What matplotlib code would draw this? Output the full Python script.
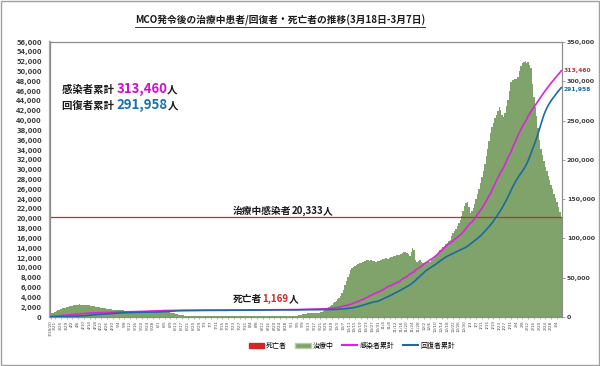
import matplotlib
matplotlib.use("Agg")
import matplotlib.pyplot as plt
import numpy as np
import pandas as pd
from matplotlib.patches import Patch, Rectangle
from matplotlib.lines import Line2D
from matplotlib.transforms import offset_copy

plt.rcParams['font.family'] = ['Noto Sans CJK JP', 'DejaVu Sans']

# daily, 2020-03-18 .. 2021-03-07
dates = pd.date_range('2020-03-18', '2021-03-07', freq='D')

# 治療中 (thousands, left axis)
active_k = (
    [0.7, 0.8, 0.9, 1.05, 1.15, 1.35, 1.4, 1.55, 1.75, 1.85, 1.9, 1.95, 2.1, 2.2]
    + [2.2, 2.3, 2.35, 2.4, 2.45, 2.5, 2.55, 2.5, 2.5, 2.45, 2.45, 2.45, 2.4, 2.35, 2.3,
       2.25, 2.2, 2.1, 2.05, 2.0, 1.95, 1.9, 1.85, 1.8, 1.75, 1.7, 1.65, 1.6, 1.55, 1.5]
    + [1.5, 1.45, 1.45, 1.4, 1.4, 1.35, 1.35, 1.3, 1.3, 1.25, 1.25, 1.2, 1.2, 1.15, 1.15,
       1.1, 1.1, 1.1, 1.05, 1.05, 1.05, 1.05, 1.0, 1.05, 1.1, 1.15, 1.1, 1.1, 1.05, 1.0, 1.0]
    + [1.0, 1.0, 0.95, 1.0, 1.0, 0.95, 0.95, 0.95, 0.9, 0.9, 0.85, 0.8, 0.7, 0.6, 0.5,
       0.45, 0.4, 0.35, 0.3, 0.3, 0.3, 0.25, 0.25, 0.25, 0.2, 0.2, 0.2, 0.2, 0.2, 0.15]
    + [0.15] * 22 + [0.2] * 9
    + [0.2] * 31
    + [0.2, 0.2, 0.25, 0.25, 0.3, 0.35, 0.4, 0.5, 0.55, 0.65, 0.7, 0.75, 0.75, 0.75, 0.75,
       0.75, 0.75, 0.8, 0.85, 0.9, 1.0, 1.1, 1.2, 1.35, 1.55, 1.75, 1.95, 2.2, 2.5, 2.8]
    + [3.0, 3.3, 3.6, 3.9, 4.2, 4.9, 5.6, 6.5, 7.3, 8.1, 8.8, 9.5, 10.0, 10.2, 10.4, 10.6,
       10.7, 10.9, 11.0, 11.2, 11.3, 11.5, 11.6, 11.7, 11.5, 11.6, 11.4, 11.5, 11.3, 11.2, 11.4]
    + [11.5, 11.7, 11.8, 11.9, 12.0, 12.0, 11.8, 12.1, 12.2, 12.3, 12.5, 12.4, 12.6, 12.7, 12.6,
       12.9, 13.0, 13.2, 13.3, 13.1, 12.8, 12.5, 13.2, 14.0, 13.6, 11.6, 11.3, 11.4, 11.6, 11.2]
    + [11.0, 11.0, 11.1, 11.2, 11.2, 11.3, 11.6, 11.9, 12.2, 12.6, 12.9, 13.3, 13.6, 13.9, 14.2,
       14.5, 14.8, 15.1, 15.4, 15.7, 16.4, 17.1, 17.6, 18.0, 18.5, 19.1, 19.7, 20.6, 21.6, 22.6, 23.3]
    + [23.5, 22.3, 21.1, 21.6, 22.2, 23.0, 24.0, 25.0, 26.1, 27.2, 28.5, 29.8, 31.2, 32.8, 34.2,
       35.9, 37.4, 38.6, 39.6, 40.5, 41.2, 42.0, 42.8, 42.2, 41.2, 40.8, 41.5, 43.0, 44.2, 46.0, 47.9]
    + [48.2, 48.3, 48.4, 48.5, 48.8, 50.0, 51.2, 51.8, 51.9, 52.1, 51.8, 51.9, 51.4, 50.8,
       47.5, 44.9, 42.8, 41.0, 38.5, 36.0, 34.2, 33.0, 31.8, 30.6, 29.7, 28.8, 27.8, 26.9]
    + [26.0, 25.0, 24.2, 23.4, 22.5, 21.4, 20.333]
)

# 感染者累計 (thousands, right axis)
infected_k = (
    [0.79, 0.90, 1.03, 1.18, 1.31, 1.52, 1.62, 1.80, 2.03, 2.16, 2.32, 2.47, 2.63, 2.77]
    + [2.91, 3.12, 3.33, 3.48, 3.66, 3.79, 3.96, 4.12, 4.23, 4.35, 4.53, 4.68, 4.82, 4.99, 5.07,
       5.18, 5.25, 5.31, 5.39, 5.43, 5.48, 5.53, 5.60, 5.69, 5.74, 5.78, 5.82, 5.85, 5.95, 6.00]
    + [6.07, 6.18, 6.30, 6.35, 6.38, 6.43, 6.47, 6.53, 6.59, 6.66, 6.72, 6.74, 6.78, 6.82, 6.86,
       6.89, 6.94, 6.98, 7.01, 7.06, 7.14, 7.19, 7.25, 7.42, 7.47, 7.60, 7.63, 7.68, 7.73, 7.76, 7.82]
    + [7.86, 7.88, 7.97, 8.25, 8.27, 8.30, 8.32, 8.34, 8.37, 8.39, 8.40, 8.40, 8.44, 8.45, 8.49,
       8.50, 8.51, 8.53, 8.54, 8.56, 8.57, 8.58, 8.59, 8.60, 8.60, 8.61, 8.61, 8.62, 8.63, 8.64]
    + [8.64, 8.65, 8.66, 8.67, 8.67, 8.68, 8.69, 8.70, 8.70, 8.72, 8.73, 8.73, 8.74, 8.75, 8.76,
       8.77, 8.78, 8.80, 8.81, 8.83, 8.84, 8.86, 8.87, 8.89, 8.90, 8.91, 8.93, 8.94, 8.96, 8.96, 8.98]
    + [8.99, 9.00, 9.00, 9.02, 9.02, 9.04, 9.05, 9.06, 9.07, 9.08, 9.08, 9.09, 9.10, 9.12, 9.15,
       9.17, 9.18, 9.20, 9.21, 9.22, 9.23, 9.24, 9.25, 9.26, 9.27, 9.29, 9.31, 9.32, 9.33, 9.34, 9.34]
    + [9.35, 9.36, 9.37, 9.39, 9.42, 9.46, 9.54, 9.63, 9.69, 9.81, 9.87, 9.93, 9.95, 9.97, 9.99,
       10.00, 10.03, 10.05, 10.10, 10.15, 10.22, 10.36, 10.43, 10.51, 10.60, 10.67, 10.77, 11.03, 11.22, 11.48]
    + [11.77, 12.09, 12.37, 12.59, 12.81, 13.50, 13.99, 14.37, 14.72, 15.10, 15.66, 16.22, 16.88,
       17.54, 18.13, 18.76, 19.63, 20.50, 21.36, 22.23, 23.05, 23.80, 24.51, 25.74, 26.57, 27.36,
       28.35, 29.44, 30.09, 30.89, 31.55]
    + [32.5, 33.1, 34.4, 35.4, 36.4, 37.9, 38.8, 39.6, 40.2, 41.0, 42.1, 43.0, 43.7, 44.7, 45.1,
       47.4, 48.3, 49.9, 50.4, 51.4, 53.2, 54.8, 55.6, 56.7, 57.6, 59.9, 60.8, 62.0, 63.3, 64.5]
    + [66.0, 67.9, 69.0, 70.1, 71.4, 72.7, 73.8, 75.0, 76.3, 77.9, 79.5, 81.5, 83.5, 84.6, 86.6,
       88.3, 90.0, 91.6, 93.3, 94.3, 95.4, 96.8, 98.7, 100.3, 101.6, 103.0, 104.5, 106.1, 108.5, 110.5, 113.0]
    + [115.1, 117.4, 119.6, 120.8, 123.0, 125.7, 128.5, 131.1, 133.6, 135.8, 138.2, 141.5, 144.5,
       147.9, 151.1, 155.0, 157.1, 161.7, 165.4, 169.4, 173.4, 177.1, 180.5, 184.6, 186.8, 190.4,
       194.2, 198.2, 203.0, 206.4, 209.7]
    + [214.0, 219.2, 222.6, 226.9, 231.5, 235.1, 238.9, 242.5, 245.6, 248.5, 251.6, 255.9, 258.3,
       261.6, 264.3, 267.1, 269.9, 272.6, 275.3, 278.0, 280.6, 283.2, 285.8, 288.3, 290.8, 293.2,
       295.6, 297.9]
    + [300.2, 302.4, 304.6, 306.7, 308.8, 311.1, 313.46]
)

# 回復者累計 (thousands, right axis)
recovered_k = (
    [0.06, 0.08, 0.09, 0.11, 0.14, 0.16, 0.18, 0.20, 0.26, 0.29, 0.39, 0.48, 0.48, 0.54]
    + [0.65, 0.77, 0.92, 1.0, 1.2, 1.2, 1.3, 1.4, 1.5, 1.6, 1.8, 1.9, 2.0, 2.3, 2.5,
       2.6, 2.8, 3.0, 3.2, 3.3, 3.4, 3.5, 3.6, 3.8, 3.9, 4.0, 4.1, 4.2, 4.3, 4.4]
    + [4.6, 4.8, 4.9, 5.0, 5.1, 5.2, 5.3, 5.4, 5.5, 5.5, 5.6, 5.6, 5.7, 5.8, 5.8, 5.9,
       5.9, 6.0, 6.0, 6.1, 6.2, 6.2, 6.2, 6.3, 6.3, 6.3, 6.3, 6.3, 6.3, 6.3, 6.4]
    + [6.5, 6.5, 6.6, 6.7, 6.8, 6.8, 6.9, 7.0, 7.2, 7.3, 7.5, 7.7, 7.9, 8.0, 8.0,
       8.1, 8.1, 8.2, 8.2, 8.2, 8.2, 8.2, 8.3, 8.3, 8.3, 8.3, 8.3, 8.3, 8.3, 8.4]
    + [8.4] * 7 + [8.5] * 11 + [8.6] * 8 + [8.7] * 5
    + [8.7] * 3 + [8.8] * 7 + [8.9] * 8 + [9.0] * 8 + [9.1] * 5
    + [9.1] * 6 + [9.2] * 5 + [9.3] * 9 + [9.4] * 9 + [9.5]
    + [9.6, 9.7, 9.8, 9.9, 10.0, 10.1, 10.3, 10.5, 10.7, 11.0, 11.2, 11.4, 11.6, 11.9, 12.3, 12.7,
       13.2, 13.7, 14.2, 14.7, 15.3, 15.9, 16.5, 17.1, 17.6, 18.2, 18.7, 19.2, 19.5, 19.8, 20.1]
    + [21.0, 21.9, 22.8, 23.6, 24.4, 25.2, 26.0, 26.9, 27.8, 28.8, 29.8, 30.8, 31.8, 32.6, 33.6,
       34.6, 35.6, 36.5, 37.5, 38.6, 39.7, 40.9, 42.1, 43.5, 45.0, 46.9, 48.6, 50.3, 52.0, 53.6]
    + [55.2, 57.0, 58.6, 60.0, 61.3, 62.5, 63.6, 64.7, 65.9, 67.2, 68.6, 70.0, 71.4, 72.6, 73.9,
       75.2, 76.4, 77.4, 78.3, 79.2, 80.0, 80.9, 81.8, 82.7, 83.6, 84.5, 85.4, 86.2, 87.0, 87.9, 88.9]
    + [90.2, 91.6, 93.0, 94.5, 95.8, 97.3, 98.7, 100.2, 101.7, 103.3, 105.0, 107.0, 108.9, 111.0,
       113.1, 115.2, 117.3, 119.6, 122.2, 124.8, 127.5, 130.3, 133.1, 136.0, 139.0, 142.3, 145.6,
       149.1, 152.8, 156.6, 160.5]
    + [164.5, 168.0, 171.5, 174.5, 177.5, 180.5, 183.0, 185.5, 188.5, 191.5, 195.0, 199.0, 203.5,
       208.5, 213.5, 218.0, 223.0, 228.5, 234.0, 240.0, 246.0, 252.0, 257.5, 262.0, 266.0, 269.5,
       272.5, 275.5]
    + [278.0, 280.5, 283.0, 285.3, 287.6, 289.8, 291.958]
)

# 死亡者 (cumulative count, left axis)
deaths = (
    [2, 3, 3, 4, 10, 14, 16, 19, 20, 24, 27, 35, 37, 43]
    + [45, 50, 53, 57, 61, 62, 63, 65, 67, 70, 73, 76, 77, 82, 83, 84, 86, 88, 89, 89,
       92, 93, 96, 96, 98, 98, 100, 100, 102, 103]
    + [103, 103, 103, 105, 106, 106, 107, 107, 108, 108, 108, 109, 109, 109, 110, 111,
       112, 112, 112, 113, 113, 113, 114, 114, 115, 115, 115, 115, 115, 115, 115]
    + [115, 115, 115, 115, 117, 117, 118, 119, 120, 120] + [120, 120] + [121] * 18
    + [121] * 9 + [122] * 12 + [123] * 3 + [124] * 5 + [125] * 2
    + [125] * 23 + [126] * 4 + [127] + [128] * 3
    + [128] * 20 + [130] * 5 + [133, 133, 134, 135, 136]
    + [137, 137, 137, 137, 141, 141, 146, 148, 150, 152, 155, 157, 163, 167, 169, 176, 178,
       178, 184, 187, 190, 193, 199, 214, 221, 229, 238, 242, 246, 249, 249]
    + [251, 255, 261, 264, 266, 272, 277, 282, 285, 288, 294, 300, 303, 305, 306, 308, 311,
       318, 320, 325, 326, 328, 335, 339, 341, 345, 350, 355, 358, 363]
    + [366, 370, 372, 381, 384, 386, 391, 393, 399, 402, 405, 410, 411, 417, 422, 424, 429,
       432, 433, 439, 441, 443, 446, 451, 453, 455, 457, 461, 463, 466, 471]
    + [474, 486, 491, 496, 498, 501, 508, 512, 514, 520, 526, 535, 545, 555, 586, 592, 600,
       610, 619, 624, 641, 648, 658, 667, 678, 691, 708, 725, 736, 746, 762]
    + [776, 789, 806, 820, 834, 849, 858, 865, 874, 881, 900, 915, 923, 942, 971, 985, 1004,
       1023, 1030, 1041, 1050, 1067, 1076, 1085, 1093, 1100, 1111, 1130]
    + [1135, 1141, 1142, 1147, 1156, 1166, 1169]
)

current_active = 20.333  # thousands

tick_idx = [0] + list(range(3, len(dates), 4))
tick_labels = ['3/18/20' if i == 0 else f'{dates[i].month}/{dates[i].day}' for i in tick_idx]

GREEN = '#7fa36a'
MAGENTA = '#dc24dc'
BLUE = '#1c6aa0'
RED = '#d02828'
NUM_FONT = ['DejaVu Sans']

x = np.arange(len(dates))

fig = plt.figure(figsize=(6, 3.66), dpi=100)
ax = fig.add_axes([50 / 600, 49 / 366, 512 / 600, 275 / 366])

ax.bar(x, np.array(deaths) / 1000, width=1.0, color=RED, linewidth=0, zorder=1)
ax.bar(x, active_k, width=1.0, color=GREEN, linewidth=0, zorder=2)
ax.axhline(current_active, color=RED, lw=0.9, zorder=3)

ax.set_xlim(-0.5, len(dates) - 0.5)
ax.set_ylim(0, 56)
yt = np.arange(0, 57, 2)
ax.set_yticks(yt)
ax.set_yticklabels([f'{int(v * 1000):,}' for v in yt], fontsize=4.8, fontweight='bold',
                   color='#404040', family=NUM_FONT)
ax.tick_params(axis='y', length=0, pad=6)
ax.set_xticks(tick_idx)
ax.set_xticklabels(tick_labels, rotation=90, fontsize=3, color='#505050', family=NUM_FONT)
ax.tick_params(axis='x', length=1.5, width=0.4, pad=1, color='#808080')

ax2 = ax.twinx()
ax2.plot(x, infected_k, color=MAGENTA, lw=1.2, zorder=4)
ax2.plot(x, recovered_k, color=BLUE, lw=1.2, zorder=4)
ax2.set_ylim(0, 350)
yt2 = np.arange(0, 351, 50)
ax2.set_yticks(yt2)
ax2.set_yticklabels([f'{int(v * 1000):,}' for v in yt2], fontsize=4.5, fontweight='bold',
                    color='#404040', family=NUM_FONT)
ax2.tick_params(axis='y', length=2, width=0.5, pad=1.5, color='#808080')

ax2.text(len(dates) + 0.5, infected_k[-1], f'{int(infected_k[-1] * 1000):,}', color='#c0303a',
         fontsize=4.3, fontweight='bold', va='center', ha='left', clip_on=False, family=NUM_FONT,
         transform=offset_copy(ax2.transData, fig=fig, y=0.5, units='points'))
ax2.text(len(dates) + 0.5, recovered_k[-1], f'{int(round(recovered_k[-1] * 1000)):,}', color=BLUE,
         fontsize=4.3, fontweight='bold', va='center', ha='left', clip_on=False, family=NUM_FONT,
         transform=offset_copy(ax2.transData, fig=fig, y=-1.2, units='points'))

for a in (ax, ax2):
    for s in a.spines.values():
        s.set_color('#8c8c8c')
        s.set_linewidth(0.8)
ax.spines['left'].set_color('#a6a6a6')
ax.spines['left'].set_linewidth(1.6)

fig.canvas.draw()
renderer = fig.canvas.get_renderer()


def rich_text(px, py, parts):
    # parts: (text, color, size); px, py in pixels from top-left, py = baseline
    cx = px / 600
    for s, c, size in parts:
        t = fig.text(cx, 1 - py / 366, s, color=c, fontsize=size, fontweight='bold',
                     va='baseline', ha='left')
        bb = t.get_window_extent(renderer)
        cx += bb.width / fig.bbox.width


rich_text(62, 93, [('感染者累計 ', '#1a1a1a', 7.5), ('313,460', '#cc10cc', 9.5), ('人', '#1a1a1a', 7.5)])
rich_text(62, 109, [('回復者累計 ', '#1a1a1a', 7.5), ('291,958', '#1a70b0', 9.5), ('人', '#1a1a1a', 7.5)])
rich_text(233, 214, [('治療中感染者', '#1a1a1a', 7), ('20,333', '#1a1a1a', 7), ('人', '#1a1a1a', 7)])
rich_text(233, 302, [('死亡者', '#1a1a1a', 7), ('1,169', RED, 7), ('人', '#1a1a1a', 7)])

title = fig.text(280 / 600, 1 - 20 / 366, 'MCO発令後の治療中患者/回復者・死亡者の推移(3月18日-3月7日)',
                 fontsize=7, fontweight='bold', ha='center', va='center', color='#1a1a1a')
tb = title.get_window_extent(renderer)
uy = (tb.y0 - 1) / fig.bbox.height
fig.add_artist(Line2D([tb.x0 / fig.bbox.width, tb.x1 / fig.bbox.width], [uy, uy],
                      transform=fig.transFigure, color='#1a1a1a', lw=0.6))

handles = [Patch(facecolor=RED, edgecolor=RED), Patch(facecolor=GREEN, edgecolor='#b8cfa8'),
           Line2D([], [], color=MAGENTA, lw=1.5), Line2D([], [], color=BLUE, lw=1.5)]
fig.legend(handles, ['死亡者', '治療中', '感染者累計', '回復者累計'], loc='center',
           bbox_to_anchor=(352 / 600, 1 - 346 / 366), ncol=4, frameon=False, fontsize=5,
           handlelength=2.2, handleheight=0.8, columnspacing=1.2, handletextpad=0.3)

fig.add_artist(Rectangle((0.001, 0.002), 0.997, 0.995, transform=fig.transFigure,
                         fill=False, edgecolor='#a0a0a0', lw=1.0))

fig.savefig('out.png', dpi=100)
